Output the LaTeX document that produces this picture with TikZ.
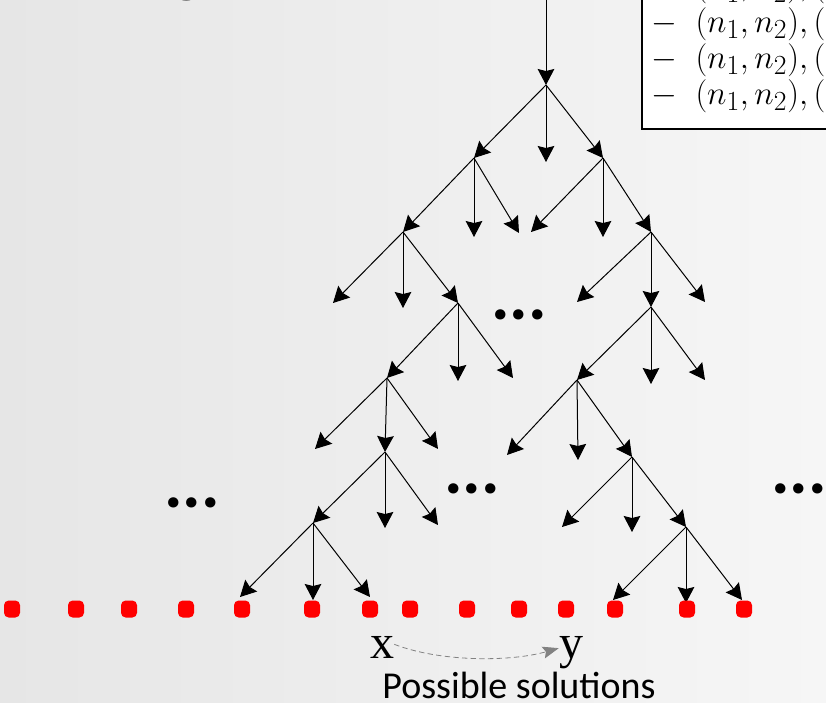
\documentclass[tikz,border=0pt]{standalone}
\usepackage{fontspec}
\usetikzlibrary{positioning}
\usetikzlibrary{arrows.meta}
\newfontfamily\calibri{Carlito}
\newfontfamily\serifrm{Liberation Serif}
\definecolor{bgleft}{RGB}{230,230,230}
\definecolor{bgright}{RGB}{246,246,246}
\definecolor{soln}{RGB}{255,0,0}
\definecolor{hint}{RGB}{130,130,130}

\begin{document}
\begin{tikzpicture}[x=0.75pt, y=-0.75pt, >={Stealth[length=12pt, width=12.5pt, inset=1.5pt]},
    branch/.style={->, line width=0.75pt},
    soldot/.style={fill=soln, rounded corners=3.5pt, minimum width=12pt, minimum height=12.75pt, inner sep=0pt},
    more/.style={font=\calibri\bfseries\fontsize{52}{52}\selectfont, inner sep=0pt, anchor=base}]
\useasboundingbox (0,0) rectangle (826,703);
\clip (0,0) rectangle (826,703);
\shade[left color=bgleft, right color=bgright] (0,0) rectangle (826,703);

% --- slide title, cut off ---
\node[font=\calibri\fontsize{50}{50}\selectfont, anchor=base, inner sep=0pt] (title) at (187,-11) {g};

% --- pairs box ---
\draw[line width=1.5pt, fill=white] (642,-20) rectangle (870,129);
\foreach \i/\yb in {0/-4, 1/32, 2/68, 3/104} {
    \node[anchor=base west, inner sep=0pt, font=\fontsize{28}{28}\selectfont] (pair\i) at (651,\yb) {$-\;\;(n_1,n_2),($};
}

% --- search tree ---
\foreach \name/\x/\y in {top/546/0, a/546/85, b/474/158, c/603/158, d/403/232, e/651/232,
    f/458/303, g/651/307, h/387/378, i/577/380, j/385/452, k/632/457, l/313/523, m/686/527} {
    \coordinate (\name) at (\x,\y);
}
\foreach \name/\x/\y in {am/546/162, bm/474/237, br/519/233, cl/531/232, cm/603/237,
    dl/333/303, dm/403/308, el/577/302, er/705/302, fm/458/381, fr/513/378,
    gm/651/384, gr/705/380, hl/315/449, hr/438/449, il/507/455, im/578/460,
    jm/385/528, jr/438/525, kl/562/527, km/632/532,
    ll/240/597, lm/313/600, lr/370/597, ml/613/600, mm/686/603, mr/742/600} {
    \coordinate (\name) at (\x,\y);
}
\foreach \from/\to in {top/a, a/b, a/am, a/c, b/d, b/bm, b/br, c/cl, c/cm, c/e,
    d/dl, d/dm, d/f, e/el, e/g, e/er, f/h, f/fm, f/fr, g/i, g/gm, g/gr,
    h/hl, h/j, h/hr, i/il, i/im, i/k, j/l, j/jm, j/jr, k/kl, k/km, k/m,
    l/ll, l/lm, l/lr, m/ml, m/mm, m/mr} {
    \draw[branch] (\from) -- (\to);
}

% --- omitted parts ---
\node[more] (gap1) at (519,319) {...};
\node[more] (gap2) at (472,493) {...};
\node[more] (gap3) at (192,507) {...};
\node[more] (gap4) at (799,493) {...};

% --- solution space ---
\foreach \x [count=\n] in {12,76,129,186,242,312,370,410,467,519,566,615,687,744} {
    \node[soldot] (sol\n) at (\x,609) {};
}
\node[font=\serifrm\fontsize{36}{36}\selectfont, anchor=base, inner sep=0pt] (xsol) at (382,658) {x};
\node[font=\serifrm\fontsize{36}{36}\selectfont, anchor=base, inner sep=0pt] (ysol) at (571,658) {y};
\draw[->, hint, dash pattern=on 4pt off 2.5pt, line width=0.6pt, >={Stealth[length=12pt, width=9pt, inset=2pt]}]
    ([yshift=2pt]xsol.east) .. controls (440,662) and (510,662) .. ([yshift=3pt]ysol.west);
\node[font=\calibri\fontsize{28.5}{28.5}\selectfont, anchor=base, inner sep=0pt] (possible) at (519,698) {Possible solutions};
\end{tikzpicture}
\end{document}
